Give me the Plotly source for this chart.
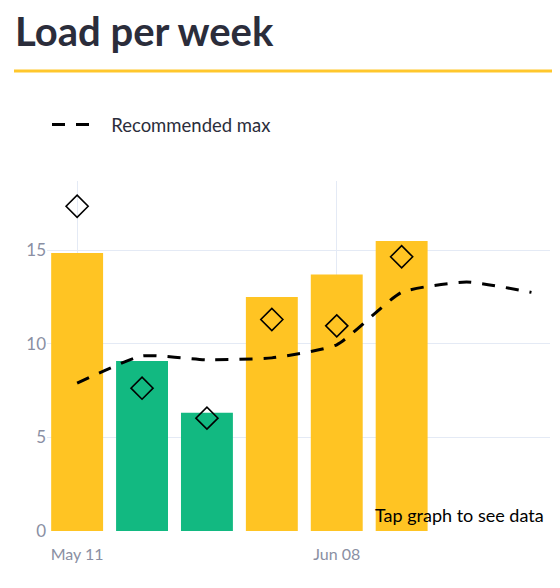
import pandas as pd
import plotly.graph_objects as go

# weekly data
week_dates = ["2025-05-11", "2025-05-18", "2025-05-25", "2025-06-01", "2025-06-08", "2025-06-15"]
load_values = [14.85, 9.08, 6.32, 12.5, 13.7, 15.5]
load_colors = ["#FFC423", "#12B981", "#12B981", "#FFC423", "#FFC423", "#FFC423"]
marker_values = [17.35, 7.63, 6.03, 11.3, 10.96, 14.65]

max_dates = ["2025-05-11", "2025-05-18", "2025-05-25", "2025-06-01", "2025-06-08",
             "2025-06-15", "2025-06-22", "2025-06-29"]
max_values = [7.9, 9.35, 9.15, 9.25, 9.95, 12.75, 13.3, 12.75]

FONT = "Lato"
TICK_COLOR = "#8A8FA3"
GRID_COLOR = "#E4EAF5"

# the page body adds an 8px margin, so the figure is drawn 8px smaller
W, H = 552, 580

fig = go.Figure()

fig.add_trace(
    go.Bar(
        x=pd.to_datetime(week_dates),
        y=load_values,
        marker=dict(color=load_colors, line=dict(width=0)),
        showlegend=False,
        name="Load",
    )
)

fig.add_trace(
    go.Scatter(
        x=pd.to_datetime(max_dates),
        y=max_values,
        mode="lines",
        line=dict(color="black", width=3, dash="13px,11px", shape="spline", smoothing=0.5),
        name="\u00a0\u00a0\u00a0Recommended max",
    )
)

fig.add_trace(
    go.Scatter(
        x=pd.to_datetime(week_dates),
        y=marker_values,
        mode="markers",
        marker=dict(symbol="diamond-open", size=17, color="black", line=dict(width=1.6)),
        showlegend=False,
        name="Load markers",
    )
)

fig.update_layout(
    width=W,
    height=H,
    margin=dict(l=39, r=10, t=173, b=57),
    template="plotly_white",
    paper_bgcolor="white",
    plot_bgcolor="white",
    font=dict(family=FONT, size=16, color=TICK_COLOR),
    title=dict(
        text="<b>Load per week</b>",
        font=dict(family=FONT, size=40, color="#2B2D3B"),
        xref="container",
        yref="container",
        x=7 / W,
        xanchor="left",
        y=1 - 24 / H,
        yanchor="middle",
    ),
    legend=dict(
        x=0,
        xanchor="left",
        y=1.16,
        yanchor="middle",
        itemwidth=40,
        font=dict(family=FONT, size=18.5, color="#2B2D3B"),
        bgcolor="rgba(0,0,0,0)",
    ),
    bargap=0.2,
    xaxis=dict(
        type="date",
        range=["2025-05-07 18:00", "2025-07-01"],
        tick0="2025-05-11",
        dtick=28 * 24 * 3600 * 1000,
        tickformat="%b %d",
        showgrid=True,
        gridcolor=GRID_COLOR,
        zeroline=False,
        showline=False,
        ticks="",
        ticklabelstandoff=12,
        tickfont=dict(color=TICK_COLOR, size=16),
    ),
    yaxis=dict(
        range=[0, 18.7],
        tickvals=[0, 5, 10, 15],
        showgrid=True,
        gridcolor=GRID_COLOR,
        zeroline=False,
        showline=False,
        ticks="",
        tickfont=dict(color=TICK_COLOR, size=17),
    ),
    shapes=[
        dict(
            type="line",
            xref="paper",
            yref="paper",
            x0=(14 - 47) / 503,
            x1=(552 - 47) / 503,
            y0=(531 - 71) / 350,
            y1=(531 - 71) / 350,
            line=dict(color="#FFC72C", width=3),
        )
    ],
    annotations=[
        dict(
            text="Tap graph to see data",
            xref="paper",
            yref="paper",
            x=(546 - 47) / 503,
            y=(531 - 515) / 350,
            xanchor="right",
            yanchor="middle",
            showarrow=False,
            font=dict(family=FONT, size=18, color="black"),
        )
    ],
)

fig.write_html("out.html")
